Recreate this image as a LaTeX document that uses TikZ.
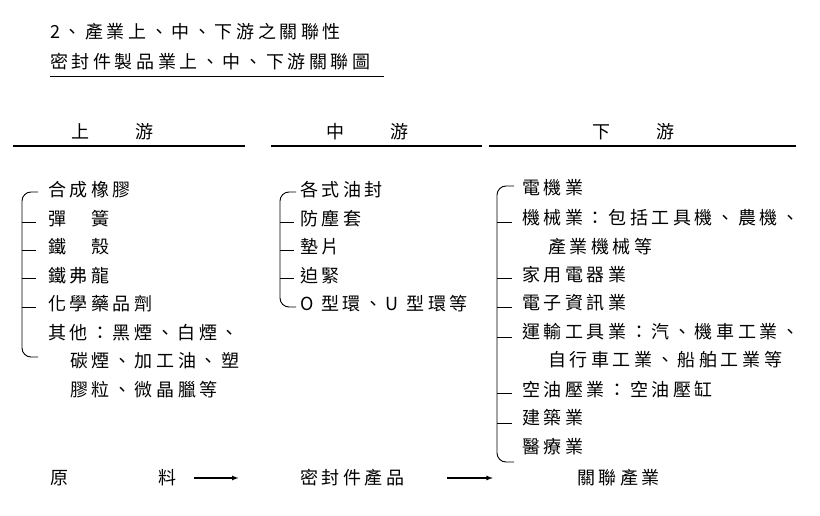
\documentclass[tikz,border=0pt]{standalone}
\usepackage{fontspec}
\setmainfont[LetterSpace=20]{Noto Sans CJK TC}
\usetikzlibrary{positioning}
\usetikzlibrary{calc}
\tikzset{
  txt/.style={anchor=west, inner sep=0pt, font=\fontsize{18pt}{20pt}\selectfont},
  headline/.style={line width=1.4pt},
  brack/.style={line width=0.9pt, rounded corners=9pt},
  flow/.style={-latex, line width=1.2pt}
}
\begin{document}
\begin{tikzpicture}[x=1pt, y=-1pt]
\useasboundingbox (0,0) rectangle (820,516);

% titles
\node[txt] (T1) at (50,32) {2、產業上、中、下游之關聯性};
\node[txt] (T2) at (50,62) {密封件製品業上、中、下游關聯圖};
\draw[line width=1pt] (50,77) -- (384,77);

% column heads
\node[txt] (HU) at (71,132) {上　　游};
\node[txt] (HM) at (326,132) {中　　游};
\node[txt] (HD) at (592,132) {下　　游};
\draw[headline] (13,146) -- (245,146);
\draw[headline] (271,146) -- (482,146);
\draw[headline] (489,146) -- (796,146);

%%% upstream
\node[txt] (U1) at (48,190) {合成橡膠};
\node[txt] (U2) at (48,219) {彈　簧};
\node[txt] (U3) at (48,247) {鐵　殼};
\node[txt] (U4) at (48,276) {鐵弗龍};
\node[txt] (U5) at (48,304) {化學藥品劑};
\node[txt] (U6) at (48,333) {其他：黑煙、白煙、};
\node[txt] (U7) at (70,361) {碳煙、加工油、塑};
\node[txt] (U8) at (70,390) {膠粒、微晶臘等};
\draw[brack] (38,192) -- (22,192) -- (22,357) -- (38,357);
\foreach \yy in {222,250,278,307} \draw[line width=0.9pt] (22,\yy) -- (36,\yy);

%%% midstream
\node[txt] (M1) at (300,190) {各式油封};
\node[txt] (M2) at (300,219) {防塵套};
\node[txt] (M3) at (300,247) {墊片};
\node[txt] (M4) at (300,276) {迫緊};
\node[txt] (M5) at (300,304) {O 型環、U 型環等};
\draw[brack] (296,192) -- (280,192) -- (280,307) -- (296,307);
\foreach \yy in {222,250,278} \draw[line width=0.9pt] (280,\yy) -- (294,\yy);

%%% downstream
\node[txt] (D1) at (522,188) {電機業};
\node[txt] (D2) at (522,218) {機械業：包括工具機、農機、};
\node[txt] (D3) at (548,247) {產業機械等};
\node[txt] (D4) at (522,275) {家用電器業};
\node[txt] (D5) at (522,303) {電子資訊業};
\node[txt] (D6) at (522,332) {運輸工具業：汽、機車工業、};
\node[txt] (D7) at (548,360) {自行車工業、船舶工業等};
\node[txt] (D8) at (522,390) {空油壓業：空油壓缸};
\node[txt] (D9) at (522,418) {建築業};
\node[txt] (D10) at (522,447) {醫療業};
\draw[brack] (514,186) -- (497,186) -- (497,462) -- (514,462);
\foreach \yy in {222,278,307,337,393,423} \draw[line width=0.9pt] (497,\yy) -- (512,\yy);

%%% bottom flow
\node[txt] (B1) at (50,478) {原　　　　料};
\node[txt] (B2) at (300,478) {密封件產品};
\node[txt] (B3) at (577,478) {關聯產業};
\draw[flow] ($(B1.east)+(18,0)$) -- ($(B1.east)+(62,0)$);
\draw[flow] ($(B2.east)+(42,0)$) -- ($(B2.east)+(88,0)$);

\end{tikzpicture}
\end{document}
